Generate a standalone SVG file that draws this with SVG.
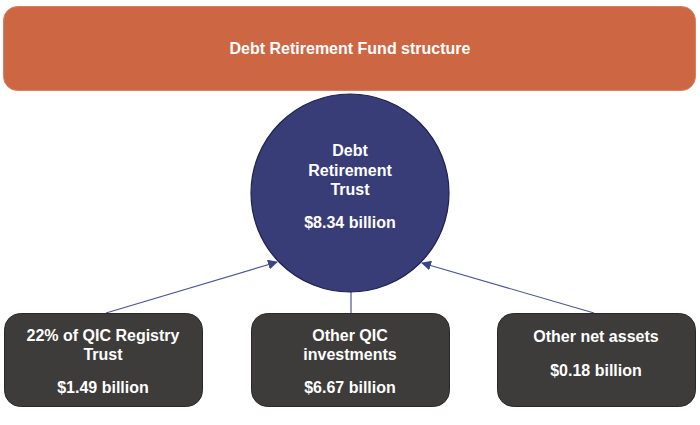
<svg xmlns="http://www.w3.org/2000/svg" width="700" height="425" viewBox="0 0 700 425">
<style>
text{font-family:"Liberation Sans",Arial,sans-serif;font-weight:bold;font-size:16px;fill:#ffffff;text-anchor:middle}
.box{fill:#3E3B3B;stroke:#2A2828;stroke-width:1}
.conn{stroke:#4A5593;stroke-width:1.2;fill:none}
</style>
<defs>
<marker id="ah" viewBox="0 0 10 10" refX="9" refY="5" markerWidth="10" markerHeight="10" markerUnits="userSpaceOnUse" orient="auto">
<path d="M0,0 L10,5 L0,10 z" fill="#3A4585"/>
</marker>
</defs>
<g id="banner">
<rect x="3.5" y="6.5" width="692" height="84" rx="14" fill="#CD6743" stroke="#D9805F" stroke-width="1"/>
<text x="350" y="54">Debt Retirement Fund structure</text>
</g>
<g id="connectors">
<line class="conn" x1="106" y1="313" x2="277" y2="262" marker-end="url(#ah)"/>
<line class="conn" x1="351" y1="291" x2="351" y2="313"/>
<line class="conn" x1="594" y1="313" x2="422" y2="263" marker-end="url(#ah)"/>
</g>
<g id="trust">
<circle cx="350" cy="193" r="99" fill="#383D78" stroke="#1E2250" stroke-width="1.2"/>
<text x="350" y="156">Debt</text>
<text x="350" y="176">Retirement</text>
<text x="350" y="195">Trust</text>
<text x="350" y="228">$8.34 billion</text>
</g>
<g id="registry">
<rect class="box" x="4.5" y="313.5" width="198" height="93" rx="16"/>
<text x="103" y="341">22% of QIC Registry</text>
<text x="103" y="360">Trust</text>
<text x="103" y="393">$1.49 billion</text>
</g>
<g id="other-qic">
<rect class="box" x="251.5" y="313.5" width="198" height="93" rx="16"/>
<text x="350" y="341">Other QIC</text>
<text x="350" y="360">investments</text>
<text x="350" y="393">$6.67 billion</text>
</g>
<g id="net-assets">
<rect class="box" x="497.5" y="313.5" width="198" height="93" rx="16"/>
<text x="596" y="342">Other net assets</text>
<text x="596" y="376">$0.18 billion</text>
</g>
</svg>
